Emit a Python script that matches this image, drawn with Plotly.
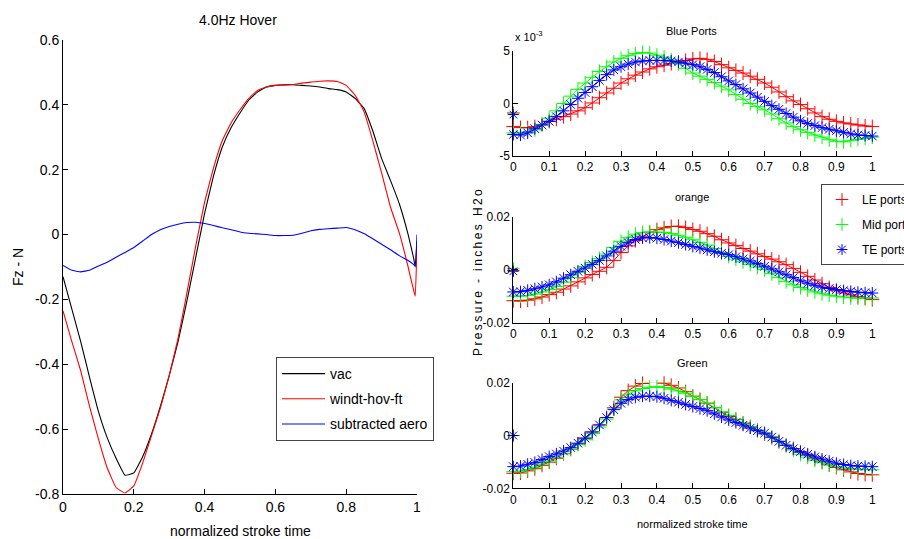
import plotly.graph_objects as go

FONT = "Liberation Sans, Arial, sans-serif"
W, H = 904, 539

# ---------------- left chart data (Fz, N) ----------------
t_force = [0.000, 0.025, 0.050, 0.075, 0.100, 0.125, 0.150, 0.175, 0.200, 0.225,
           0.250, 0.275, 0.300, 0.325, 0.350, 0.375, 0.400, 0.425, 0.450, 0.475,
           0.500, 0.525, 0.550, 0.575, 0.600, 0.625, 0.650, 0.675, 0.700, 0.725,
           0.750, 0.775, 0.800, 0.825, 0.850, 0.875, 0.900, 0.925, 0.950, 0.975,
           0.990, 0.995, 1.000]
vac = [-0.13, -0.23, -0.33, -0.44, -0.545, -0.627, -0.69, -0.742, -0.735, -0.685,
       -0.615, -0.53, -0.435, -0.33, -0.205, -0.07, 0.065, 0.18, 0.27, 0.33,
       0.375, 0.415, 0.44, 0.455, 0.46, 0.462, 0.462, 0.46, 0.458, 0.455,
       0.45, 0.447, 0.44, 0.42, 0.39, 0.32, 0.235, 0.167, 0.095, 0.0,
       -0.07, -0.1, -0.02]
windt = [-0.235, -0.33, -0.42, -0.53, -0.63, -0.72, -0.78, -0.797, -0.775, -0.705,
         -0.62, -0.535, -0.435, -0.32, -0.18, -0.035, 0.1, 0.205, 0.29, 0.345,
         0.385, 0.42, 0.445, 0.455, 0.46, 0.461, 0.463, 0.467, 0.47, 0.473,
         0.474, 0.472, 0.46, 0.43, 0.38, 0.29, 0.19, 0.085, 0.005, -0.1,
         -0.17, -0.19, -0.03]
aero = [-0.095, -0.11, -0.115, -0.11, -0.097, -0.085, -0.07, -0.055, -0.04, -0.02,
        0.0, 0.015, 0.025, 0.032, 0.037, 0.038, 0.034, 0.028, 0.021, 0.015,
        0.008, 0.004, 0.002, 0.0, -0.003, -0.003, -0.002, 0.004, 0.012, 0.016,
        0.018, 0.02, 0.022, 0.015, 0.003, -0.013, -0.03, -0.047, -0.065, -0.08,
        -0.092, -0.097, 0.0]
force_names = ["vac", "windt-hov-ft", "subtracted aero"]
force_colors = ["#000000", "#ff0000", "#0000ff"]

# ---------------- right chart data (pressure) ----------------
t_ports = [i / 50 for i in range(51)]
port_names = ["LE ports", "Mid ports", "TE ports"]
port_colors = ["#ff0000", "#00ff00", "#0000ff"]

# Blue ports, in units of 1e-3 inches H2o
bp_le = [-2.2, -2.3, -2.3, -2.2, -2.0, -1.7, -1.5, -1.25, -1.0, -0.7,
         -0.4, 0.05, 0.55, 1.0, 1.45, 1.95, 2.35, 2.7, 3.0, 3.3,
         3.5, 3.65, 3.8, 3.95, 4.1, 4.25, 4.3, 4.2, 4.0, 3.7,
         3.4, 3.15, 2.9, 2.6, 2.3, 1.95, 1.55, 1.1, 0.65, 0.25,
         -0.1, -0.5, -0.9, -1.25, -1.5, -1.7, -1.85, -1.95, -2.05, -2.15,
         -2.2]
bp_mid = [-2.8, -2.8, -2.7, -2.5, -2.0, -1.4, -0.7, 0.0, 0.7, 1.35,
          1.95, 2.5, 3.05, 3.5, 3.95, 4.3, 4.55, 4.75, 4.85, 4.8,
          4.6, 4.4, 4.15, 3.8, 3.35, 2.9, 2.6, 2.3, 2.0, 1.65,
          1.3, 0.85, 0.4, 0.0, -0.3, -0.6, -1.0, -1.45, -1.85, -2.2,
          -2.5, -2.75, -3.0, -3.2, -3.45, -3.6, -3.65, -3.5, -3.4, -3.3,
          -3.2]
bp_te = [-2.95, -3.0, -2.8, -2.4, -2.05, -1.7, -1.25, -0.7, -0.1, 0.5,
         1.05, 1.6, 2.2, 2.75, 3.2, 3.5, 3.75, 3.95, 4.05, 4.1,
         4.1, 4.1, 4.05, 3.95, 3.85, 3.7, 3.5, 3.25, 2.95, 2.55,
         2.15, 1.8, 1.4, 1.0, 0.6, 0.2, -0.2, -0.55, -0.95, -1.3,
         -1.65, -1.9, -2.1, -2.3, -2.45, -2.6, -2.75, -2.9, -3.0, -3.05,
         -3.1]
bp_first = [-0.9, -1.0, -1.05]

# Orange ports, in units of 1e-3 inches H2o
or_le = [-11.7, -11.8, -11.5, -11.0, -10.3, -9.4, -8.5, -7.3, -6.1, -4.6,
         -3.1, -1.8, -0.6, 0.9, 3.5, 6.5, 9.0, 11.0, 12.6, 14.0,
         15.1, 15.8, 16.3, 16.4, 15.9, 15.2, 14.5, 13.6, 12.6, 11.3,
         10.1, 9.1, 8.0, 7.0, 6.0, 5.0, 4.0, 3.0, 1.9, 0.5,
         -1.0, -2.5, -3.9, -5.3, -6.7, -7.9, -8.8, -9.5, -10.2, -10.8,
         -11.3]
or_mid = [-10.0, -10.0, -9.7, -9.2, -8.4, -7.5, -6.3, -4.7, -3.0, -1.0,
          1.2, 2.7, 4.2, 5.9, 8.4, 10.7, 12.2, 13.4, 14.0, 14.3,
          14.2, 14.0, 13.6, 13.0, 12.2, 11.3, 10.3, 9.3, 8.0, 6.5,
          5.0, 4.0, 3.0, 2.0, 1.0, 0.0, -1.5, -3.0, -4.5, -5.7,
          -6.7, -7.6, -8.4, -9.1, -9.6, -10.0, -10.3, -10.6, -10.7, -10.7,
          -10.7]
or_te = [-8.4, -8.3, -7.8, -7.2, -6.5, -5.7, -4.6, -3.2, -1.9, -0.6,
         0.6, 2.0, 3.5, 5.2, 7.0, 8.8, 10.2, 11.4, 12.0, 12.1,
         11.9, 11.4, 10.8, 10.2, 9.5, 8.8, 8.2, 7.5, 6.8, 6.2,
         5.7, 4.9, 4.1, 3.3, 2.3, 1.3, 0.3, -0.8, -1.9, -3.0,
         -4.2, -5.1, -5.9, -6.6, -7.1, -7.5, -7.9, -8.2, -8.5, -8.7,
         -8.8]
or_first = [-0.3, 0.5, -0.6]

# Green ports, in units of 1e-3 inches H2o
gr_le = [-14.3, -14.2, -13.4, -12.6, -11.3, -10.1, -8.6, -6.9, -5.2, -3.2,
         -1.0, 1.4, 4.0, 6.8, 10.5, 14.5, 17.0, 18.7, 19.7, 20.3,
         20.3, 19.8, 19.0, 18.0, 16.6, 14.9, 13.6, 12.2, 10.5, 8.8,
         7.2, 6.0, 4.6, 3.2, 1.9, 0.6, -0.8, -2.3, -3.7, -5.0,
         -6.4, -7.6, -8.8, -10.0, -11.1, -12.1, -13.0, -13.8, -14.4, -14.7,
         -14.9]
gr_mid = [-13.7, -13.5, -12.8, -12.0, -10.8, -9.6, -8.2, -6.7, -5.2, -3.4,
          -1.6, 0.7, 3.2, 6.2, 10.0, 13.5, 15.6, 16.9, 17.8, 18.3,
          18.5, 18.2, 17.6, 16.9, 16.0, 14.8, 13.6, 12.3, 10.6, 9.0,
          7.6, 6.2, 4.8, 3.4, 2.1, 0.9, -0.6, -2.2, -3.8, -5.5,
          -7.1, -8.2, -9.4, -10.3, -11.1, -11.8, -12.3, -12.6, -12.8, -12.9,
          -13.0]
gr_te = [-11.8, -11.6, -10.9, -10.2, -9.1, -8.0, -7.0, -5.9, -4.6, -2.9,
         -1.0, 1.3, 4.0, 6.8, 9.8, 12.2, 13.6, 14.5, 14.9, 14.9,
         14.7, 14.1, 13.3, 12.6, 11.8, 11.0, 10.2, 9.4, 8.2, 7.0,
         5.9, 4.9, 3.9, 2.8, 1.8, 0.9, -0.6, -2.2, -3.7, -5.0,
         -6.1, -7.1, -8.1, -8.9, -9.7, -10.5, -11.0, -11.4, -11.6, -11.7,
         -11.8]
gr_first = [0.0, 0.0, 0.0]

subplot_titles = ["Blue Ports", "orange", "Green"]

# tick labels
left_xticks = [0, 0.2, 0.4, 0.6, 0.8, 1]
left_xtext = ["0", "0.2", "0.4", "0.6", "0.8", "1"]
left_yticks = [-0.8, -0.6, -0.4, -0.2, 0, 0.2, 0.4, 0.6]
left_ytext = ["-0.8", "-0.6", "-0.4", "-0.2", "0", "0.2", "0.4", "0.6"]
right_xticks = [0, 0.1, 0.2, 0.3, 0.4, 0.5, 0.6, 0.7, 0.8, 0.9, 1]
right_xtext = ["0", "0.1", "0.2", "0.3", "0.4", "0.5", "0.6", "0.7", "0.8", "0.9", "1"]
bp_yticks = [-5, 0, 5]
bp_ytext = ["-5", "0", "5"]
pr_yticks = [-0.02, 0, 0.02]
pr_ytext = ["-0.02", "0", "0.02"]

# ---------------- figure ----------------
fig = go.Figure()

for name, yv, col in zip(force_names, [vac, windt, aero], force_colors):
    fig.add_trace(go.Scatter(
        x=t_force, y=yv, mode="lines", name=name, legend="legend",
        legendgroup=name, line=dict(color=col, width=1.1, shape="spline", smoothing=0.3),
        xaxis="x", yaxis="y", cliponaxis=False, hoverinfo="skip"))

symbols = ["cross-thin-open", "cross-thin-open", "asterisk-open"]
port_sets = [
    ([bp_le, bp_mid, bp_te], bp_first, 1.0, "x2", "y2"),
    ([or_le, or_mid, or_te], or_first, 0.001, "x3", "y3"),
    ([gr_le, gr_mid, gr_te], gr_first, 0.001, "x4", "y4"),
]
for k, (series, first, scale, xa, ya) in enumerate(port_sets):
    for j, (yv, col, sym, nm) in enumerate(zip(series, port_colors, symbols, port_names)):
        fig.add_trace(go.Scatter(
            x=t_ports, y=[v * scale for v in yv], mode="lines+markers",
            name=nm, legend="legend2", legendgroup=nm,
            showlegend=False,
            line=dict(color=col, width=1),
            marker=dict(symbol=sym, size=10, color=col, line=dict(color=col, width=1)),
            xaxis=xa, yaxis=ya, cliponaxis=False, hoverinfo="skip"))
    for j, (col, sym, nm) in enumerate(zip(port_colors, symbols, port_names)):
        fig.add_trace(go.Scatter(
            x=[0], y=[first[j] * scale], mode="markers",
            name=nm, legend="legend2", legendgroup=nm,
            showlegend=(k == 1),
            marker=dict(symbol=sym, size=9, color=col, line=dict(color=col, width=1)),
            xaxis=xa, yaxis=ya, cliponaxis=False, hoverinfo="skip"))


def px_x(p):
    return p / W


def px_y(p):
    return 1 - p / H


axis_common = dict(showline=True, linecolor="black", linewidth=1, mirror=False,
                   ticks="inside", ticklen=5, tickcolor="black", showgrid=False,
                   zeroline=False, tickmode="array")

left_tick_font = dict(family=FONT, size=14, color="black")
right_tick_font = dict(family=FONT, size=12, color="black")

layout = dict(
    width=W, height=H,
    margin=dict(l=0, r=0, t=0, b=0, autoexpand=False),
    paper_bgcolor="white", plot_bgcolor="white",
    font=dict(family=FONT, color="black"),
    xaxis=dict(axis_common, domain=[px_x(63), px_x(417)], range=[0, 1],
               tickvals=left_xticks, ticktext=left_xtext, tickfont=left_tick_font,
               anchor="y"),
    yaxis=dict(axis_common, domain=[px_y(494), px_y(40)], range=[-0.8, 0.6],
               tickvals=left_yticks, ticktext=left_ytext, tickfont=left_tick_font,
               anchor="x"),
)
right_domains = [(51, 156), (216.7, 322.7), (382.7, 488.3)]
right_ranges = [[-5, 5], [-0.02, 0.02], [-0.02, 0.02]]
right_yt = [(bp_yticks, bp_ytext), (pr_yticks, pr_ytext), (pr_yticks, pr_ytext)]
for i in range(3):
    n = i + 2
    top, bot = right_domains[i]
    layout[f"xaxis{n}"] = dict(axis_common, domain=[px_x(513.3), px_x(872.3)], range=[0, 1],
                               tickvals=right_xticks, ticktext=right_xtext,
                               tickfont=right_tick_font, anchor=f"y{n}")
    layout[f"yaxis{n}"] = dict(axis_common, domain=[px_y(bot), px_y(top)], range=right_ranges[i],
                               tickvals=right_yt[i][0], ticktext=right_yt[i][1],
                               tickfont=right_tick_font, anchor=f"x{n}")

layout["legend"] = dict(x=px_x(276), y=px_y(357), xanchor="left", yanchor="top",
                        bordercolor="#444444", borderwidth=1, bgcolor="white",
                        font=dict(family=FONT, size=14, color="black"),
                        tracegroupgap=4, itemwidth=43)
layout["legend2"] = dict(x=px_x(821), y=px_y(184), xanchor="left", yanchor="top",
                         bordercolor="#444444", borderwidth=1, bgcolor="white",
                         font=dict(family=FONT, size=12, color="black"),
                         tracegroupgap=6)

ann = []


def add_text(text, x, y, size, angle=0):
    ann.append(dict(text=text, x=px_x(x), y=px_y(y), xref="paper", yref="paper",
                    showarrow=False, xanchor="center", yanchor="middle",
                    textangle=angle, font=dict(family=FONT, size=size, color="black")))


add_text("4.0Hz Hover", 238, 20, 14)
add_text("Fz - N", 18, 267, 14, -90)
add_text("normalized stroke time", 240, 531, 14)
add_text(subplot_titles[0], 691, 31, 11)
add_text(subplot_titles[1], 692, 197, 11)
add_text(subplot_titles[2], 692, 363, 11)
add_text("normalized stroke time", 692, 524, 11)
add_text('<span style="letter-spacing:2.4px">Pressure - inches H2o</span>', 478, 272, 12, -90)
ann.append(dict(text="x 10<sup>-3</sup>", x=px_x(513), y=px_y(36), xref="paper", yref="paper",
                showarrow=False, xanchor="left", yanchor="middle",
                font=dict(family=FONT, size=11, color="black")))
layout["annotations"] = ann

fig.update_layout(layout)
fig.write_html("out.html")
